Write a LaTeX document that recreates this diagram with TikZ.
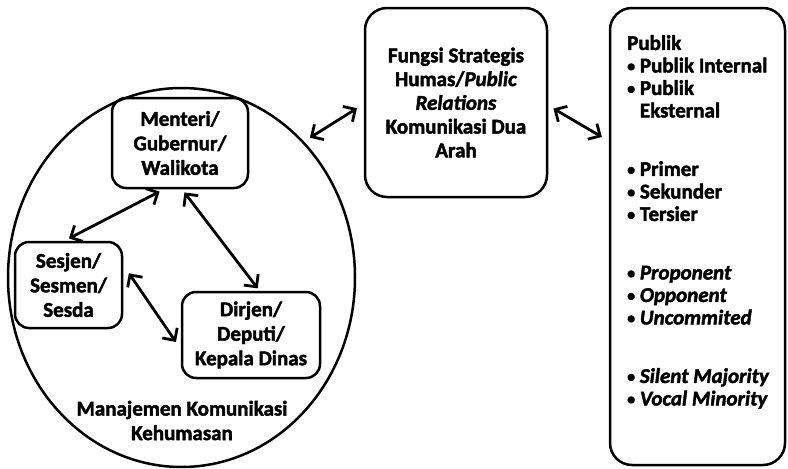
\documentclass[tikz,border=0pt]{standalone}
\usepackage{fontspec}
\setmainfont{Carlito}[BoldFeatures={FakeBold=2}, BoldItalicFeatures={FakeBold=2}]
\usepackage{tikz}
\usetikzlibrary{shapes.geometric}
\usetikzlibrary{arrows.meta}
\tikzset{>={Straight Barb[length=9pt, width=18pt]}}
\tikzset{box/.style={draw, line width=2.5pt, rounded corners=14pt, align=center, inner sep=0pt}}
\tikzset{link/.style={line width=2.8pt, <->}}
\newcommand{\titik}{\raisebox{1pt}{\fontsize{16}{16}\selectfont•}}

\begin{document}
\begin{tikzpicture}[x=1pt, y=-1pt, font=\fontsize{21}{24.5}\selectfont\bfseries]
    \useasboundingbox (0, 0) rectangle (788, 469);
    \node[draw, ellipse, line width=2.5pt, minimum width=347pt, minimum height=379pt, inner sep=0pt](circ) at (181.5, 277.5){};
    \node[box, minimum width=136pt, minimum height=90pt](menteri) at (180, 143){Menteri/\\Gubernur/\\Walikota};
    \node[box, minimum width=107pt, minimum height=86pt](sesjen) at (68.5, 285){Sesjen/\\Sesmen/\\Sesda};
    \node[box, minimum width=138pt, minimum height=86pt](dirjen) at (251, 335){Dirjen/\\Deputi/\\Kepala Dinas};
    \node[align=center](manajemen) at (182, 420.5){Manajemen Komunikasi\\Kehumasan};
    \node[box, rounded corners=22pt, minimum width=182pt, minimum height=189pt, font=\fontsize{21}{23.75}\selectfont\bfseries](fungsi) at (456, 102.5){Fungsi Strategis\\Humas/\textit{Public}\\\textit{Relations}\\Komunikasi Dua\\Arah};
    \node[box, rounded corners=22pt, minimum width=175pt, minimum height=457pt](publik) at (697.5, 236.5){};
    \node[anchor=north west, align=left, inner sep=0pt, font=\fontsize{21}{22.5}\selectfont\bfseries](daftar) at (627, 35){Publik\\
        \titik\ Publik Internal\\
        \titik\ Publik\\
        \phantom{\titik}\ Eksternal\\[36pt]
        \titik\ Primer\\
        \titik\ Sekunder\\
        \titik\ Tersier\\[36pt]
        \titik\ \textit{Proponent}\\
        \titik\ \textit{Opponent}\\
        \titik\ \textit{Uncommited}\\[36pt]
        \titik\ \textit{Silent Majority}\\
        \titik\ \textit{Vocal Minority}};
    % panah dua arah
    \draw[link, shorten <=7pt, shorten >=8pt](circ.48) -- ([yshift=-1.5pt]fungsi.west);
    \draw[link, shorten <=6pt, shorten >=8pt]([yshift=-3pt]fungsi.east) -- ([yshift=95.5pt]publik.west);
    \draw[link, shorten <=5pt, shorten >=5pt]([xshift=-16pt]menteri.south) -- ([xshift=-4pt]sesjen.north);
    \draw[link, shorten <=4pt, shorten >=3pt]([xshift=2pt]menteri.south) -- ([xshift=8.5pt]dirjen.north);
    \draw[link, shorten <=10pt, shorten >=8.5pt]([yshift=20pt]sesjen.east) -- ([yshift=-14pt]dirjen.west);
\end{tikzpicture}
\end{document}
